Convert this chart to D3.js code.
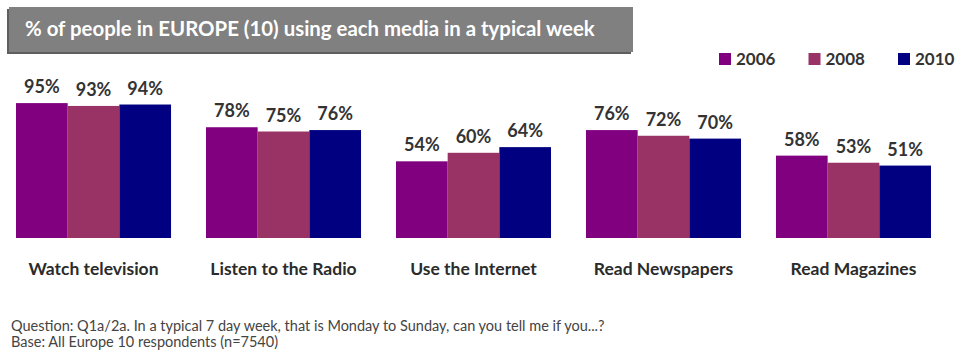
<!DOCTYPE html>
<html>
<head>
<meta charset="utf-8">
<script src="https://cdn.jsdelivr.net/npm/d3@7"></script>
<style>
  body { margin: 0; background: #fff; }
  svg { display: block; font-family: Lato, "Open Sans", sans-serif; }
</style>
</head>
<body>
<svg width="959" height="353"></svg>
<script>
var categories = ["Watch television", "Listen to the Radio", "Use the Internet", "Read Newspapers", "Read Magazines"];
var years = ["2006", "2008", "2010"];
var values2006 = [95, 78, 54, 76, 58];
var values2008 = [93, 75, 60, 72, 53];
var values2010 = [94, 76, 64, 70, 51];
var colors = ["#800080", "#993366", "#000080"];

var svg = d3.select("svg"),
  width = +svg.attr("width"),
  height = +svg.attr("height");

var series = [values2006, values2008, values2010];
var data = categories.map(function(c, i) {
  return { cat: c, vals: years.map(function(y, j) { return { year: y, v: series[j][i] }; }) };
});

// title banner with a little shadow
svg.append("rect")
  .attr("x", 7).attr("y", 9).attr("width", 624).attr("height", 45)
  .attr("fill", "#5e5e5e");
svg.append("rect")
  .attr("x", 9).attr("y", 7).attr("width", 624).attr("height", 45)
  .attr("fill", "#808080");
svg.append("text")
  .attr("x", 25).attr("y", 36)
  .attr("fill", "#fff")
  .attr("font-size", 20.4)
  .attr("font-weight", 700)
  .text("% of people in EUROPE (10) using each media in a typical week");

var x0 = d3.scaleBand()
  .domain(categories)
  .range([16, 931])
  .paddingInner(0.184)
  .paddingOuter(0);

var x1 = d3.scaleBand()
  .domain(years)
  .range([0, x0.bandwidth()]);

var y = d3.scaleLinear()
  .domain([0, 100])
  .range([238, 96]);

var z = d3.scaleOrdinal().domain(years).range(colors);

// legend
var legend = svg.append("g")
  .selectAll("g")
  .data(years)
  .enter().append("g")
  .attr("transform", function(d, i) { return "translate(" + (719 + i * 89.5) + ",53)"; });

legend.append("rect")
  .attr("width", 12).attr("height", 12)
  .attr("fill", z);

legend.append("text")
  .attr("x", 17).attr("y", 12)
  .attr("font-size", 17)
  .attr("font-weight", 700)
  .attr("fill", "#333")
  .text(function(d) { return d; });

var group = svg.append("g")
  .selectAll("g")
  .data(data)
  .enter().append("g")
  .attr("transform", function(d) { return "translate(" + x0(d.cat) + ",0)"; });

group.selectAll("rect")
  .data(function(d) { return d.vals; })
  .enter().append("rect")
  .attr("x", function(d) { return x1(d.year); })
  .attr("y", function(d) { return y(d.v); })
  .attr("width", x1.bandwidth())
  .attr("height", function(d) { return y(0) - y(d.v); })
  .attr("fill", function(d) { return z(d.year); });

group.selectAll("text.val")
  .data(function(d) { return d.vals; })
  .enter().append("text")
  .attr("class", "val")
  .attr("x", function(d) { return x1(d.year) + x1.bandwidth() / 2; })
  .attr("y", function(d) { return y(d.v) - 10; })
  .attr("text-anchor", "middle")
  .attr("font-size", 18)
  .attr("font-weight", 700)
  .attr("fill", "#333")
  .text(function(d) { return d.v + "%"; });

group.append("text")
  .attr("x", x0.bandwidth() / 2)
  .attr("y", 275)
  .attr("text-anchor", "middle")
  .attr("font-size", 17.5)
  .attr("font-weight", 700)
  .attr("fill", "#2b2b2b")
  .text(function(d) { return d.cat; });

// footnote
var notes = ["Question: Q1a/2a. In a typical 7 day week, that is Monday to Sunday, can you tell me if you...?",
  "Base: All Europe 10 respondents (n=7540)"];
svg.append("g")
  .selectAll("text")
  .data(notes)
  .enter().append("text")
  .attr("x", 11)
  .attr("y", function(d, i) { return 331 + i * 16; })
  .attr("font-size", 14.5)
  .attr("fill", "#444")
  .text(function(d) { return d; });
</script>
</body>
</html>
